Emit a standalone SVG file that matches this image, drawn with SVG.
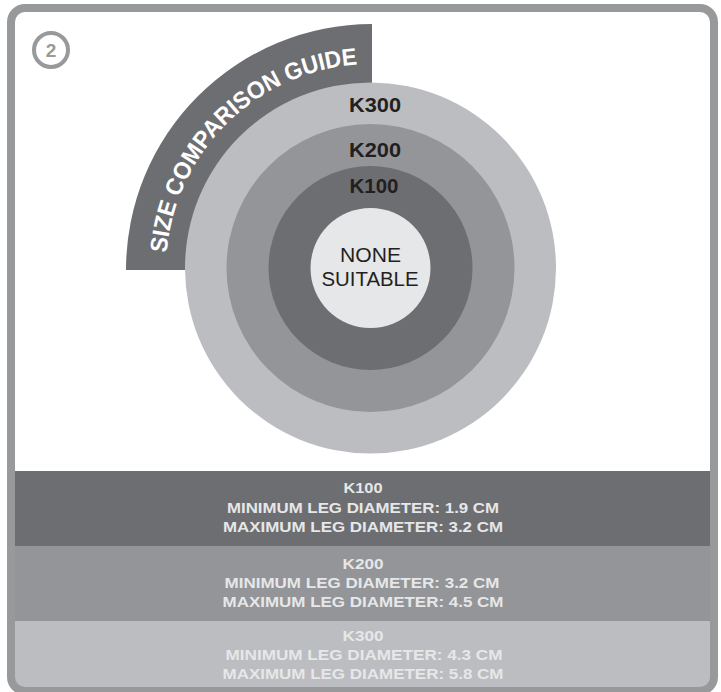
<svg xmlns="http://www.w3.org/2000/svg" xmlns:xlink="http://www.w3.org/1999/xlink" width="721" height="692" viewBox="0 0 721 692">
  <style>
    .lbl { font-family: "Liberation Sans", Arial, sans-serif; font-weight: bold; font-size: 20px; fill: #231f20; text-anchor: middle; }
    .none { font-family: "Liberation Sans", Arial, sans-serif; font-size: 20px; fill: #231f20; text-anchor: middle; }
    .band { font-family: "Liberation Sans", Arial, sans-serif; font-weight: bold; font-size: 15px; fill: #e6e7e8; text-anchor: middle; }
    .title { font-family: "Liberation Sans", Arial, sans-serif; font-weight: bold; font-size: 24px; fill: #ffffff; }
  </style>
  <defs>
    <clipPath id="inner">
      <rect x="11" y="8" width="703" height="683" rx="14" ry="14"/>
    </clipPath>
    <path id="arcPath" d="M 166 270 A 206 206 0 0 1 372 64"/>
  </defs>

  <rect width="721" height="692" fill="#ffffff"/>

  <g id="bands" clip-path="url(#inner)">
    <g id="band-k100">
      <rect x="11" y="471" width="703" height="75" fill="#6d6e71"/>
      <text class="band" x="363" y="493" textLength="39" lengthAdjust="spacingAndGlyphs">K100</text>
      <text class="band" x="363" y="513" textLength="272" lengthAdjust="spacingAndGlyphs">MINIMUM LEG DIAMETER: 1.9 CM</text>
      <text class="band" x="363" y="532" textLength="280" lengthAdjust="spacingAndGlyphs">MAXIMUM LEG DIAMETER: 3.2 CM</text>
    </g>
    <g id="band-k200">
      <rect x="11" y="546" width="703" height="75" fill="#939598"/>
      <text class="band" x="363" y="569" textLength="41" lengthAdjust="spacingAndGlyphs">K200</text>
      <text class="band" x="362" y="588" textLength="275" lengthAdjust="spacingAndGlyphs">MINIMUM LEG DIAMETER: 3.2 CM</text>
      <text class="band" x="363" y="607" textLength="281" lengthAdjust="spacingAndGlyphs">MAXIMUM LEG DIAMETER: 4.5 CM</text>
    </g>
    <g id="band-k300">
      <rect x="11" y="621" width="703" height="75" fill="#bcbdc0"/>
      <text class="band" x="363" y="641" textLength="41" lengthAdjust="spacingAndGlyphs">K300</text>
      <text class="band" x="364" y="660" textLength="277" lengthAdjust="spacingAndGlyphs">MINIMUM LEG DIAMETER: 4.3 CM</text>
      <text class="band" x="363" y="679" textLength="281" lengthAdjust="spacingAndGlyphs">MAXIMUM LEG DIAMETER: 5.8 CM</text>
    </g>
  </g>

  <g id="frame">
    <rect x="11" y="8" width="703" height="683" rx="14" ry="14" fill="none" stroke="#98999b" stroke-width="8"/>
  </g>

  <g id="badge">
    <circle cx="51" cy="50" r="17" fill="#ffffff" stroke="#98999b" stroke-width="4"/>
    <text x="51" y="57" font-family="Liberation Sans, Arial, sans-serif" font-weight="bold" font-size="19" fill="#98999b" text-anchor="middle">2</text>
  </g>

  <g id="title-band">
    <path d="M 372 270 L 126 270 A 246 246 0 0 1 372 24 Z" fill="#6d6e71"/>
    <text class="title"><textPath xlink:href="#arcPath" href="#arcPath" startOffset="17" textLength="51" lengthAdjust="spacingAndGlyphs">SIZE</textPath></text>
    <text class="title"><textPath xlink:href="#arcPath" href="#arcPath" startOffset="74" textLength="157" lengthAdjust="spacingAndGlyphs">COMPARISON</textPath></text>
    <text class="title"><textPath xlink:href="#arcPath" href="#arcPath" startOffset="237" textLength="72" lengthAdjust="spacingAndGlyphs">GUIDE</textPath></text>
  </g>

  <g id="k300">
    <circle cx="370.5" cy="268" r="185.5" fill="#bcbdc0"/>
    <text class="lbl" x="375" y="112" textLength="52" lengthAdjust="spacingAndGlyphs">K300</text>
  </g>
  <g id="k200">
    <circle cx="370.5" cy="268" r="144" fill="#939598"/>
    <text class="lbl" x="375" y="157" textLength="52" lengthAdjust="spacingAndGlyphs">K200</text>
  </g>
  <g id="k100">
    <circle cx="370.5" cy="268" r="102" fill="#6d6e71"/>
    <text class="lbl" x="374" y="193" textLength="49" lengthAdjust="spacingAndGlyphs">K100</text>
  </g>
  <g id="none-suitable">
    <circle cx="370.5" cy="268" r="60" fill="#e6e7e8"/>
    <text class="none" x="370.5" y="262" textLength="61" lengthAdjust="spacingAndGlyphs">NONE</text>
    <text class="none" x="370" y="286" textLength="97" lengthAdjust="spacingAndGlyphs">SUITABLE</text>
  </g>

  <g id="connectors"/>
</svg>
